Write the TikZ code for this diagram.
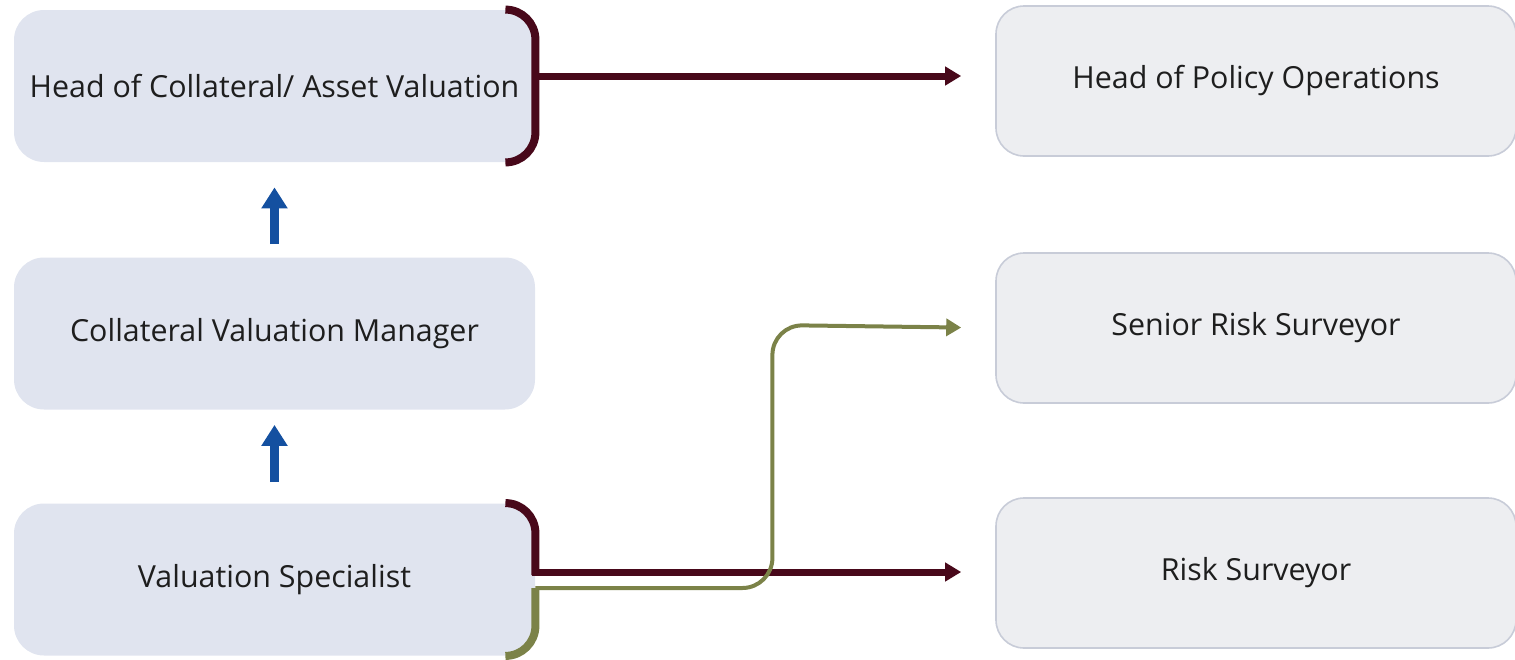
\documentclass[tikz,border=0pt]{standalone}
\usepackage{fontspec}
\setmainfont{Open Sans}
\usetikzlibrary{arrows.meta}
\definecolor{maroonc}{HTML}{48081A}
\definecolor{olivec}{HTML}{7B8248}
\definecolor{bluec}{HTML}{1450A0}
\definecolor{leftfill}{HTML}{E0E4EF}
\definecolor{rightfill}{HTML}{EDEEF1}
\definecolor{rightdraw}{HTML}{C8CCD8}
\definecolor{textc}{HTML}{1E1E1E}
\tikzset{
  boxfont/.style={font=\fontsize{15.2pt}{18pt}\selectfont},
  leftbox/.style={rectangle, rounded corners=15pt, fill=leftfill, minimum width=260.5pt, minimum height=76pt, inner sep=0pt, text=textc, boxfont},
  rightbox/.style={rectangle, rounded corners=14pt, fill=rightfill, draw=rightdraw, line width=0.8pt, minimum width=260pt, minimum height=75pt, inner sep=0pt, text=textc, boxfont},
  maroonbracket/.style={draw=maroonc, line width=4pt, rounded corners=15pt},
  olivebracket/.style={draw=olivec, line width=4pt, rounded corners=15pt},
  maroonarrow/.style={draw=maroonc, line width=3.5pt, -{Triangle[length=8pt,width=9pt]}},
  olivearrow/.style={draw=olivec, line width=2pt, rounded corners=15pt, -{Triangle[length=7.5pt,width=8.5pt]}},
  bluearrow/.style={draw=bluec, line width=4.5pt, -{Triangle[length=10.5pt,width=12.5pt]}},
}
\begin{document}
\begin{tikzpicture}[x=0.5pt,y=-0.5pt]
\useasboundingbox (0,0) rectangle (1515,659);
% left boxes
\node[leftbox] (L1) at (274.5,86) {Head of Collateral/ Asset Valuation};
\node[leftbox] (L2) at (274.5,333.5) {Collateral Valuation Manager};
\node[leftbox] (L3) at (274.5,579.5) {Valuation Specialist};
% right boxes
\node[rightbox] (R1) at (1256,81) {Head of Policy Operations};
\node[rightbox] (R2) at (1256,328) {Senior Risk Surveyor};
\node[rightbox] (R3) at (1256,573) {Risk Surveyor};
% blue arrows
\draw[bluearrow, shorten <=6.5pt, shorten >=12.5pt] (L2.north) -- (L1.south);
\draw[bluearrow, shorten <=10.5pt, shorten >=7.5pt] (L3.north) -- (L2.south);
% top bracket and arrow
\draw[maroonbracket] ([xshift=-15pt]L1.north east) -- (L1.north east) -- (L1.south east) -- ([xshift=-15pt]L1.south east);
\draw[maroonarrow, shorten >=17pt] ([yshift=5pt]L1.east) -- ([yshift=5pt]L1.east -| R1.west);
% bottom brackets
\coordinate (mid) at ([yshift=3.75pt]L3.east);
\coordinate (gmid) at ([yshift=-4.25pt]L3.east);
\draw[maroonbracket] ([xshift=-15pt]L3.north east) -- (L3.north east) -- ([yshift=-1.5pt]mid);
\draw[maroonarrow, shorten >=17pt] ([xshift=-1.5pt]mid) -- (mid -| R3.west);
\draw[olivebracket] (gmid) -- (L3.south east) -- ([xshift=-15pt]L3.south east);
\draw[olivearrow, shorten >=17pt] (gmid) -- ++(237,0) -- ++(0,-263) -- (R2.west);
\end{tikzpicture}
\end{document}
